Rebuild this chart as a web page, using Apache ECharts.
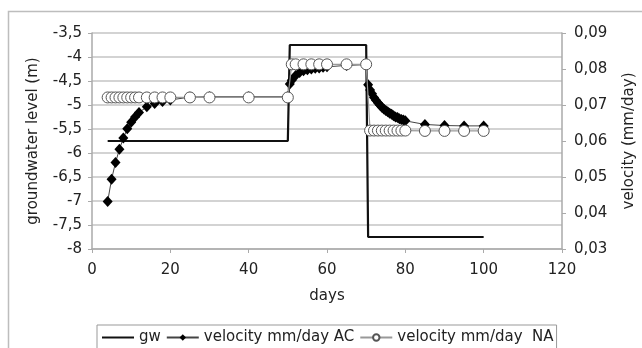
<!DOCTYPE html>
<html>
<head>
<meta charset="utf-8">
<script src="https://cdn.jsdelivr.net/npm/echarts@6/dist/echarts.min.js"></script>
<style>
  html, body { margin: 0; padding: 0; background: #fff; }
  #chart { width: 642px; height: 348px; }
</style>
</head>
<body>
<div id="chart"></div>
<script>
// groundwater level (left axis, m)
const gwDays = [4, 50, 50.5, 70, 70.5, 100]
const gwLevel = [-5.75, -5.75, -3.75, -3.75, -7.75, -7.75]

// velocity AC (right axis, mm/day)
const acDays = [4, 5, 6, 7, 8, 9, 10, 11, 12, 14, 16, 18, 20, 25, 30, 40, 50,
  50.5, 51, 52, 53, 54, 55, 56, 57, 58, 59, 60, 65, 70,
  70.5, 71, 71.5, 72, 72.5, 73, 73.5, 74, 74.5, 75, 75.5, 76, 76.5, 77, 77.5, 78, 78.5, 79, 79.5, 80,
  85, 90, 95, 100]
const acVelocity = [0.0432, 0.0494, 0.0540, 0.0577, 0.0608, 0.0634, 0.0652, 0.0667, 0.0679, 0.0695, 0.0704, 0.0710, 0.0714, 0.0722, 0.0723, 0.0723, 0.0723,
  0.0758, 0.0769, 0.0782, 0.0790, 0.0795, 0.0798, 0.0800, 0.0802, 0.0803, 0.0805, 0.0806, 0.0810, 0.0812,
  0.0756, 0.0742, 0.0731, 0.0721, 0.0713, 0.0706, 0.0700, 0.0694, 0.0689, 0.0685, 0.0681, 0.0677, 0.0674, 0.0670, 0.0667, 0.0665, 0.0662, 0.0660, 0.0658, 0.0656,
  0.0646, 0.0643, 0.0642, 0.0642]

// velocity NA (right axis, mm/day)
const naDays = [4, 5, 6, 7, 8, 9, 10, 11, 12, 14, 16, 18, 20, 25, 30, 40, 50,
  51, 52, 54, 56, 58, 60, 65, 70,
  71, 72, 73, 74, 75, 76, 77, 78, 79, 80, 85, 90, 95, 100]
const naVelocity = [0.0721, 0.0721, 0.0721, 0.0721, 0.0721, 0.0721, 0.0721, 0.0721, 0.0721, 0.0721, 0.0721, 0.0721, 0.0721, 0.0721, 0.0721, 0.0721, 0.0721,
  0.0813, 0.0813, 0.0813, 0.0813, 0.0813, 0.0813, 0.0813, 0.0813,
  0.0629, 0.0629, 0.0629, 0.0629, 0.0629, 0.0629, 0.0629, 0.0629, 0.0629, 0.0629, 0.0628, 0.0628, 0.0628, 0.0628]

const xTicks = { min: 0, max: 120, interval: 20 }
const gwTicks = { min: -8, max: -3.5, interval: 0.5 }
const velTicks = { min: 0.03, max: 0.09, interval: 0.01 }

const font = 'DejaVu Sans'
const comma = (v, d) => (d === undefined ? String(v) : v.toFixed(d)).replace('.', ',')
const pairs = (xs, ys) => xs.map((x, i) => [x, ys[i]])

const chart = echarts.init(document.getElementById('chart'))

chart.setOption({
  backgroundColor: '#fff',
  animation: false,
  textStyle: { fontFamily: font, color: '#222' },
  graphic: [
    {
      type: 'rect',
      left: 6,
      top: 9,
      z: -10,
      shape: { width: 700, height: 400 },
      style: { fill: 'none', stroke: '#bdbdbd', lineWidth: 1.5 },
    },
  ],
  grid: { left: 92, right: 80, top: 33, bottom: 99, outerBoundsMode: 'none' },
  legend: {
    left: 97,
    top: 325,
    padding: [5, 3, 12, 4],
    borderColor: '#999',
    borderWidth: 1,
    itemGap: 5,
    itemWidth: 32,
    itemHeight: 8,
    textStyle: { fontFamily: font, fontSize: 15, color: '#222' },
    data: [
      { name: 'gw', itemStyle: { opacity: 0 } },
      'velocity mm/day AC',
      'velocity mm/day  NA',
    ],
  },
  xAxis: {
    type: 'value',
    ...xTicks,
    name: 'days',
    nameLocation: 'middle',
    nameGap: 40,
    nameTextStyle: { fontFamily: font, fontSize: 15, color: '#222' },
    axisLine: { lineStyle: { color: '#aaa', width: 1.5 } },
    axisTick: { show: true, length: 4, lineStyle: { color: '#aaa' } },
    axisLabel: { fontFamily: font, fontSize: 15, color: '#222', margin: 14 },
    splitLine: { show: false },
  },
  yAxis: [
    {
      type: 'value',
      position: 'left',
      ...gwTicks,
      name: 'groundwater level (m)',
      nameLocation: 'middle',
      nameRotate: 90,
      nameGap: 51,
      nameTextStyle: { fontFamily: font, fontSize: 15, color: '#222' },
      axisLine: { show: true, lineStyle: { color: '#aaa', width: 1.5 } },
      axisTick: { show: true, length: 4, lineStyle: { color: '#aaa' } },
      axisLabel: { fontFamily: font, fontSize: 15, color: '#222', margin: 10, formatter: (v) => comma(v) },
      splitLine: { show: true, lineStyle: { color: '#c4c4c4', width: 1.5 } },
    },
    {
      type: 'value',
      position: 'right',
      ...velTicks,
      name: 'velocity (mm/day)',
      nameLocation: 'middle',
      nameRotate: 90,
      nameGap: 60,
      nameTextStyle: { fontFamily: font, fontSize: 15, color: '#222' },
      axisLine: { show: true, lineStyle: { color: '#aaa', width: 1.5 } },
      axisTick: { show: true, length: 4, lineStyle: { color: '#aaa' } },
      axisLabel: { fontFamily: font, fontSize: 15, color: '#222', margin: 12, formatter: (v) => comma(v, 2) },
      splitLine: { show: false },
    },
  ],
  series: [
    {
      name: 'gw',
      type: 'line',
      yAxisIndex: 0,
      data: pairs(gwDays, gwLevel),
      symbol: 'none',
      lineStyle: { color: '#111', width: 2.2 },
      itemStyle: { color: '#111' },
      z: 2,
    },
    {
      name: 'velocity mm/day AC',
      type: 'line',
      yAxisIndex: 1,
      data: pairs(acDays, acVelocity),
      symbol: 'diamond',
      symbolSize: [10, 11],
      showAllSymbol: true,
      lineStyle: { color: '#444', width: 1 },
      itemStyle: { color: '#000', borderWidth: 0 },
      z: 3,
    },
    {
      name: 'velocity mm/day  NA',
      type: 'line',
      yAxisIndex: 1,
      data: pairs(naDays, naVelocity),
      symbol: 'circle',
      symbolSize: 11,
      showAllSymbol: true,
      lineStyle: { color: '#999', width: 1.2 },
      itemStyle: { color: '#fff', borderColor: '#555', borderWidth: 1 },
      z: 4,
    },
  ],
})
</script>
</body>
</html>
